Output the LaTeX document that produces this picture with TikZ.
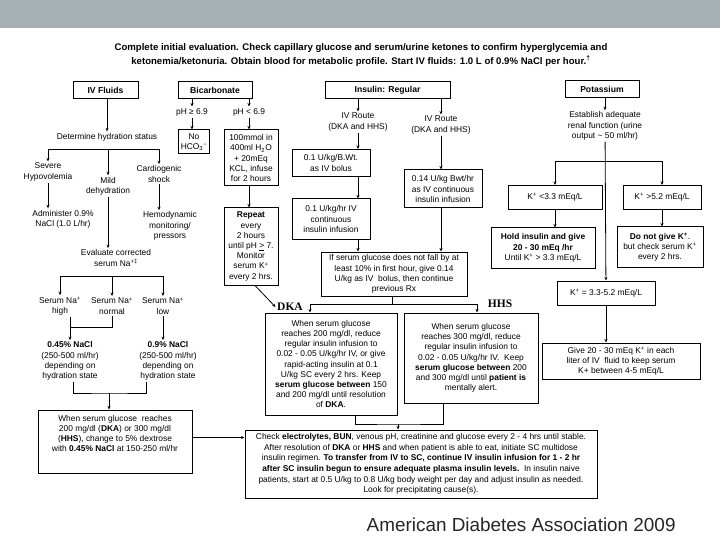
\documentclass[tikz,border=0pt]{standalone}
\usepackage{fontspec}
\setmainfont{Liberation Sans}
\newfontfamily\labelfont{Liberation Serif}
\usetikzlibrary{arrows.meta}
\definecolor{bandgray}{RGB}{166,176,180}

\begin{document}
\begin{tikzpicture}[x=1pt,y=-1pt,
  every node/.style={font=\fontsize{8.4}{10.2}\selectfont, align=center, inner sep=1.5pt},
  box/.style={draw, line width=1pt, inner sep=2pt},
  title/.style={box, font=\bfseries\fontsize{8.6}{9}\selectfont, minimum height=17pt},
  tag/.style={font=\labelfont\bfseries\fontsize{11.5}{12}\selectfont},
  link/.style={line width=0.8pt},
  arrow/.style={link, -{Stealth[length=3.5pt,width=3pt]}}]

\useasboundingbox (0,0) rectangle (720,540);
\fill[bandgray] (0,0) rectangle (720,28);

\node[font=\bfseries\fontsize{9.6}{14}\selectfont] (head) at (361,55) {Complete initial evaluation. Check capillary glucose and serum/urine ketones to confirm hyperglycemia and\\ketonemia/ketonuria. Obtain blood for metabolic profile. Start IV fluids: 1.0 L of 0.9\% NaCl per hour.\textsuperscript{†}};

\node[title, minimum width=65pt] (fluids) at (105.5,90) {IV Fluids};
\node[title, minimum width=74pt] (bicarb) at (215,90) {Bicarbonate};
\node[title, minimum width=125pt] (insulin) at (387.5,90) {Insulin: Regular};
\node[title, minimum width=74pt] (potass) at (602,89) {Potassium};

% IV fluids
\node (hydra) at (107,137) {Determine hydration status};
\coordinate (hy) at (107,149);
\node (severe) at (48,172) {Severe\\Hypovolemia};
\node (mild) at (108,186) {Mild\\dehydration};
\node (shock) at (159,174) {Cardiogenic\\shock};
\node (admin) at (63,219) {Administer 0.9\%\\NaCl (1.0 L/hr)};
\node (hemo) at (170,226) {Hemodynamic\\monitoring/\\pressors};
\node (evalna) at (116,258) {Evaluate corrected\\serum Na\textsuperscript{+‡}};
\coordinate (na) at (112,276);
\node (high) at (60,306) {Serum Na\textsuperscript{+}\\high};
\node (normal) at (112,306) {Serum Na\textsuperscript{+}\\normal};
\node (low) at (163,306) {Serum Na\textsuperscript{+}\\low};
\coordinate (nj) at (109,327);
\node (sal45) at (70,361) {\textbf{0.45\% NaCl}\\(250-500 ml/hr)\\depending on\\hydration state};
\node (sal09) at (168,361) {\textbf{0.9\% NaCl}\\(250-500 ml/hr)\\depending on\\hydration state};
\coordinate (sj) at (109,393);
\node[box, minimum width=154pt, minimum height=63pt] (dext) at (115,441.5) {When serum glucose\ \ reaches\\200 mg/dl (\textbf{DKA}) or 300 mg/dl\\(\textbf{HHS}), change to 5\% dextrose\\with \textbf{0.45\% NaCl} at 150-250 ml/hr\\[6pt]\mbox{}};

% Bicarbonate
\node (phhi) at (192,112) {pH ≥ 6.9};
\node (phlo) at (249,112) {pH < 6.9};
\node[box, minimum width=31pt, minimum height=24pt] (nohco) at (194,142) {No\\HCO\textsubscript{3}\textsuperscript{−}};
\node[box, minimum width=54pt, minimum height=56pt] (bicdose) at (251,158) {100mmol in\\400ml H\textsubscript{2}O\\+ 20mEq\\KCL, infuse\\for 2 hours};
\node[box, minimum width=54pt, minimum height=77pt] (repeat) at (251,246.5) {\textbf{Repeat}\\every\\2 hours\\until pH \underline{>} 7.\\Monitor\\serum K\textsuperscript{+}\\every 2 hrs.};
\node[tag] (dkalab) at (290,307) {DKA};

% Insulin
\node (ivl) at (358,122) {IV Route\\(DKA and HHS)};
\node (ivr) at (441,125) {IV Route\\(DKA and HHS)};
\node[box, minimum width=78pt, minimum height=27pt] (bolus) at (331,163) {0.1 U/kg/B.Wt.\\as IV bolus};
\node[box, minimum width=78pt, minimum height=40pt] (infuse) at (331,219) {0.1 U/kg/hr IV\\continuous\\insulin infusion};
\node[box, minimum width=78pt, minimum height=38pt] (hi14) at (443,189) {0.14 U/kg Bwt/hr\\as IV continuous\\insulin infusion};
\node[box, minimum width=146pt, minimum height=44pt] (ifbox) at (394,274) {If serum glucose does not fall by at\\least 10\% in first hour, give 0.14\\U/kg as IV\ \ bolus, then continue\\previous Rx};
\coordinate (dj) at (392,304);
\node[box, minimum width=132pt, minimum height=102pt] (dka) at (331,364) {When serum glucose\\reaches 200 mg/dl, reduce\\regular insulin infusion to\\0.02 - 0.05 U/kg/hr IV, or give\\rapid-acting insulin at 0.1\\U/kg SC every 2 hrs. Keep\\\textbf{serum glucose between} 150\\and 200 mg/dl until resolution\\of \textbf{DKA}.};
\node[box, minimum width=134pt, minimum height=90pt] (hhs) at (471,358) {When serum glucose\\reaches 300 mg/dl, reduce\\regular insulin infusion to\\0.02 - 0.05 U/kg/hr IV.\ \ Keep\\\textbf{serum glucose between} 200\\and 300 mg/dl until \textbf{patient is}\\mentally alert.};
\node[tag] (hhslab) at (500,304) {HHS};
\coordinate (cj) at (398,424);
\node[box, minimum width=352pt, minimum height=68pt, font=\fontsize{8.4}{10.6}\selectfont] (check) at (421,464) {Check \textbf{electrolytes, BUN}, venous pH, creatinine and glucose every 2 - 4 hrs until stable.\\After resolution of \textbf{DKA} or \textbf{HHS} and when patient is able to eat, initiate SC multidose\\insulin regimen. \textbf{To transfer from IV to SC, continue IV insulin infusion for 1 - 2 hr}\\\textbf{after SC insulin begun to ensure adequate plasma insulin levels.}\ \ In insulin naive\\patients, start at 0.5 U/kg to 0.8 U/kg body weight per day and adjust insulin as needed.\\Look for precipitating cause(s).};

% Potassium
\node (renal) at (605,126) {Establish adequate\\renal function (urine\\output \textasciitilde\ 50 ml/hr)};
\coordinate (kj) at (605,161);
\node[box, minimum width=94pt, minimum height=24pt] (klo) at (555,197.5) {K\textsuperscript{+} <3.3 mEq/L};
\node[box, minimum width=78pt, minimum height=24pt] (khi) at (662,197.5) {K\textsuperscript{+} >5.2 mEq/L};
\node[box, minimum width=104pt, minimum height=40pt] (hold) at (543,248) {\textbf{Hold insulin and give}\\\textbf{20 - 30 mEq /hr}\\Until K\textsuperscript{+} > 3.3 mEq/L};
\node[box, minimum width=86pt, minimum height=40pt] (nogive) at (660,247) {\textbf{Do not give K\textsuperscript{+}}.\\but check serum K\textsuperscript{+}\\every 2 hrs.};
\node[box, minimum width=98pt, minimum height=24pt] (keq) at (606,293) {K\textsuperscript{+} = 3.3-5.2 mEq/L};
\node[box, minimum width=158pt, minimum height=36pt] (givek) at (621,361) {Give 20 - 30 mEq K\textsuperscript{+} in each\\liter of IV\ \ fluid to keep serum\\K+ between 4-5 mEq/L};

\node[anchor=west, font=\fontsize{18.9}{21}\selectfont, text=black!85] (source) at (365,525) {American Diabetes Association 2009};

\draw[arrow] (fluids.south -| hydra) -- (hydra.north);
\draw[link] (hy -| severe) -- (hy -| shock);
\draw[arrow] (hy -| severe) -- (severe);
\draw[arrow] (hy -| mild) -- (mild);
\draw[arrow] (hy -| shock) -- (shock);
\draw[arrow] (severe) -- (severe |- admin.north);
\draw[arrow] (shock) -- (shock |- hemo.north);
\draw[arrow] (mild) -- (mild |- evalna.north);
\draw[link] (na -| high) -- (na -| low);
\draw[arrow] (na -| high) -- (high);
\draw[arrow] (na -| normal) -- (normal);
\draw[arrow] (na -| low) -- (low);
\draw[link] (normal) |- (nj -| sal45);
\draw[arrow] (sal45 |- high.south) -- (sal45);
\draw[arrow] (low) -- (low |- sal09.north);
\draw[link] ([xshift=3pt]sal45.south) |- (sj) -| ([xshift=-22pt]sal09.south);
\draw[arrow] (sj) -- (sj |- dext.north);
\draw[arrow] ([yshift=4pt]dext.east) -- ([yshift=4pt]dext.east -| check.west);

\draw[arrow] (bicarb.south -| phhi) -- (phhi);
\draw[arrow] (bicarb.south -| phlo) -- (phlo);
\draw[arrow] (phhi) -- (phhi |- nohco.north);
\draw[arrow] (phlo) -- (phlo |- bicdose.north);
\draw[arrow] (bicdose.south -| phlo) -- (repeat.north -| phlo);
\draw[arrow] ([xshift=4pt]repeat.south) -- (dkalab.west);

\draw[arrow] (insulin.south -| ivl) -- (ivl);
\draw[arrow] (insulin.south -| ivr) -- (ivr);
\draw[arrow] (ivl) -- (ivl |- bolus.north);
\draw[arrow] (bolus.south -| ivl) -- (infuse.north -| ivl);
\draw[arrow] (ivr) -- (ivr |- hi14.north);
\draw[arrow] (infuse.south -| ivl) -- (ifbox.north -| ivl);
\draw[arrow] (hi14.south -| ivr) -- (ifbox.north -| ivr);
\draw[link] (ifbox.south -| dj) -- (dj);
\draw[arrow] (dj) -| ([xshift=-21pt]dka.north);
\draw[arrow] (dj) -| ([xshift=6pt]hhs.north);
\draw[link] ([xshift=24pt]dka.south) |- (cj) -| ([xshift=-28pt]hhs.south);
\draw[arrow] (cj) -- (cj |- check.north);

\draw[arrow] (potass.south -| renal) -- (renal);
\draw[arrow] (renal) -- (keq);
\draw[link] (kj -| klo) -- (kj -| khi);
\draw[arrow] (kj -| klo) -- (klo);
\draw[arrow] (kj -| khi) -- (khi);
\draw[arrow] (klo) -- (klo |- hold.north);
\draw[arrow] (khi) -- (khi |- nogive.north);
\draw[arrow] (keq) -- (keq |- givek.north);
\end{tikzpicture}
\end{document}
